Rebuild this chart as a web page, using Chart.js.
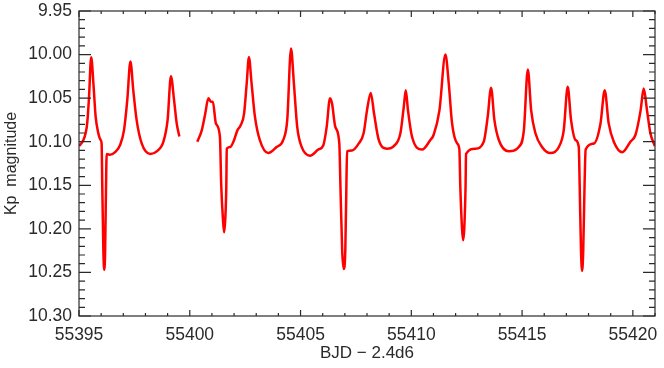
<!DOCTYPE html>
<html>
<head>
<meta charset="utf-8">
<script src="https://cdn.jsdelivr.net/npm/chart.js@4/dist/chart.umd.min.js"></script>
<style>
  html, body { margin: 0; padding: 0; background: #fff; }
  #wrap { width: 664px; height: 368px; }
</style>
</head>
<body>
<div id="wrap"><canvas id="chart" width="664" height="368"></canvas></div>
<script>
// light curve (null = data gap)
const bjd = [
  55395.00, 55395.20, 55395.30, 55395.37, 55395.45, 55395.55, 55395.65, 55395.75, 55395.87, 55395.98,
  55396.02, 55396.05, 55396.10, 55396.14, 55396.18, 55396.22, 55396.25, 55396.40, 55396.63, 55396.85,
  55397.03, 55397.18, 55397.32, 55397.45, 55397.60, 55397.83, 55398.21, 55398.51, 55398.81, 55399.00,
  55399.15, 55399.29, 55399.41, 55399.53, 55399.90,
  55400.34, 55400.54, 55400.69, 55400.84, 55400.95, 55401.04, 55401.18, 55401.36, 55401.42, 55401.50,
  55401.55, 55401.60, 55401.65, 55401.67, 55401.82, 55401.97, 55402.15, 55402.30, 55402.45, 55402.57,
  55402.67, 55402.79, 55402.94, 55403.16, 55403.54, 55403.92, 55404.22, 55404.40, 55404.57, 55404.70,
  55404.85, 55405.05, 55405.43, 55405.80, 55406.03, 55406.18, 55406.33, 55406.42, 55406.57, 55406.75,
  55406.80, 55406.88, 55406.95, 55407.02, 55407.07, 55407.10, 55407.33, 55407.63, 55407.85, 55408.00,
  55408.17, 55408.32, 55408.53, 55408.90, 55409.21, 55409.51, 55409.66, 55409.75, 55409.85, 55410.03,
  55410.49, 55410.86, 55411.01, 55411.27, 55411.54, 55411.69, 55411.84, 55412.07, 55412.17, 55412.21,
  55412.29, 55412.34, 55412.39, 55412.45, 55412.47, 55412.89, 55413.27, 55413.45, 55413.60, 55413.75,
  55413.95, 55414.40, 55414.85, 55415.08, 55415.26, 55415.41, 55415.60, 55415.90, 55416.28, 55416.66,
  55416.88, 55417.06, 55417.21, 55417.41, 55417.56, 55417.60, 55417.66, 55417.71, 55417.76, 55417.82,
  55417.87, 55418.24, 55418.54, 55418.73, 55418.91, 55419.14, 55419.52, 55419.89, 55420.12, 55420.35,
  55420.49, 55420.64, 55420.79, 55420.99
];
const kp = [
  10.105, 10.098, 10.090, 10.079, 10.050, 10.003, 10.033, 10.071, 10.090, 10.098,
  10.102, 10.150, 10.225, 10.247, 10.225, 10.150, 10.114, 10.115, 10.112, 10.104,
  10.087, 10.052, 10.008, 10.041, 10.075, 10.102, 10.114, 10.111, 10.100, 10.075,
  10.025, 10.052, 10.079, 10.094, null,
  10.100, 10.087, 10.069, 10.050, 10.054, 10.054, 10.079, 10.094, 10.150, 10.190,
  10.204, 10.190, 10.150, 10.108, 10.106, 10.100, 10.087, 10.081, 10.068, 10.033,
  10.003, 10.033, 10.071, 10.098, 10.113, 10.106, 10.098, 10.075, 9.993, 10.033,
  10.083, 10.106, 10.116, 10.109, 10.104, 10.083, 10.050, 10.056, 10.083, 10.102,
  10.150, 10.225, 10.246, 10.225, 10.150, 10.111, 10.110, 10.102, 10.090, 10.064,
  10.044, 10.068, 10.098, 10.108, 10.105, 10.090, 10.060, 10.041, 10.064, 10.094,
  10.109, 10.098, 10.092, 10.064, 10.000, 10.033, 10.079, 10.102, 10.109, 10.150,
  10.200, 10.213, 10.200, 10.150, 10.114, 10.108, 10.100, 10.071, 10.038, 10.075,
  10.098, 10.111, 10.106, 10.087, 10.017, 10.064, 10.090, 10.106, 10.113, 10.106,
  10.087, 10.037, 10.075, 10.098, 10.106, 10.150, 10.225, 10.248, 10.225, 10.150,
  10.109, 10.102, 10.079, 10.041, 10.079, 10.100, 10.112, 10.100, 10.092, 10.064,
  10.039, 10.064, 10.090, 10.105
];

const xTicks = [55395, 55400, 55405, 55410, 55415, 55420];
const xMinor = [55396, 55397, 55398, 55399, 55401, 55402, 55403, 55404, 55406, 55407, 55408, 55409,
                55411, 55412, 55413, 55414, 55416, 55417, 55418, 55419, 55421];
const yTicks = [9.95, 10.00, 10.05, 10.10, 10.15, 10.20, 10.25, 10.30];
const yMinor = [9.96, 9.97, 9.98, 9.99, 10.01, 10.02, 10.03, 10.04, 10.06, 10.07, 10.08, 10.09,
                10.11, 10.12, 10.13, 10.14, 10.16, 10.17, 10.18, 10.19, 10.21, 10.22, 10.23, 10.24,
                10.26, 10.27, 10.28, 10.29];

const points = bjd.map((x, i) => ({x: x, y: kp[i]}));
const axisColor = "#2a2a2a";
const tickFont = { family: "Liberation Sans", size: 17.5 };

// box round the plot with inward ticks on all four sides, IDL style
const framePlugin = {
  id: "frame",
  afterDraw(chart) {
    const ctx = chart.ctx;
    const a = chart.chartArea;
    const xs = chart.scales.x, ys = chart.scales.y;
    ctx.save();
    ctx.strokeStyle = axisColor;
    ctx.lineWidth = 1.2;
    ctx.strokeRect(a.left, a.top, a.right - a.left, a.bottom - a.top);
    ctx.beginPath();
    const xt = (v, len) => {
      const px = xs.getPixelForValue(v);
      if (px < a.left - 0.5 || px > a.right + 0.5) return;
      ctx.moveTo(px, a.bottom); ctx.lineTo(px, a.bottom - len);
      ctx.moveTo(px, a.top); ctx.lineTo(px, a.top + len);
    };
    const yt = (v, len) => {
      const py = ys.getPixelForValue(v);
      ctx.moveTo(a.left, py); ctx.lineTo(a.left + len, py);
      ctx.moveTo(a.right, py); ctx.lineTo(a.right - len, py);
    };
    xTicks.forEach(v => xt(v, 6));
    xMinor.forEach(v => xt(v, 3));
    yTicks.forEach(v => yt(v, 12));
    yMinor.forEach(v => yt(v, 6));
    ctx.stroke();
    ctx.restore();
  }
};

new Chart(document.getElementById("chart"), {
  type: "line",
  data: {
    datasets: [{
      data: points,
      borderColor: "#ff0000",
      borderWidth: 2.5,
      pointRadius: 0,
      fill: false,
      spanGaps: false,
      cubicInterpolationMode: "monotone"
    }]
  },
  options: {
    responsive: false,
    animation: false,
    devicePixelRatio: 1,
    layout: { padding: { top: 11, right: 9, left: 0, bottom: 0 } },
    plugins: { legend: { display: false }, tooltip: { enabled: false } },
    scales: {
      x: {
        type: "linear",
        min: 55395,
        max: 55421,
        afterBuildTicks: (s) => { s.ticks = xTicks.map(v => ({value: v})); },
        afterFit: (s) => { s.height = 52; s.paddingLeft = 0; s.paddingRight = 0; },
        grid: { display: false, drawTicks: false, tickLength: 0 },
        border: { display: false },
        ticks: {
          color: axisColor,
          font: tickFont,
          padding: 9,
          maxRotation: 0,
          autoSkip: false,
          callback: (v) => String(v)
        },
        title: {
          display: true,
          text: "BJD \u2212 2.4d6",
          color: axisColor,
          font: { family: "Liberation Sans", size: 17 },
          padding: { top: 0, bottom: 4 }
        }
      },
      y: {
        type: "linear",
        reverse: true,
        min: 9.95,
        max: 10.30,
        afterBuildTicks: (s) => { s.ticks = yTicks.map(v => ({value: v})); },
        afterFit: (s) => { s.width = 79; s.paddingTop = 0; s.paddingBottom = 0; },
        grid: { display: false, drawTicks: false, tickLength: 0 },
        border: { display: false },
        ticks: {
          color: axisColor,
          font: tickFont,
          padding: 7,
          autoSkip: false,
          callback: (v) => v.toFixed(2)
        },
        title: {
          display: true,
          text: "Kp  magnitude",
          color: axisColor,
          font: { family: "Liberation Sans", size: 16 },
          padding: { top: 2, bottom: 0 }
        }
      }
    }
  },
  plugins: [framePlugin]
});
</script>
</body>
</html>
